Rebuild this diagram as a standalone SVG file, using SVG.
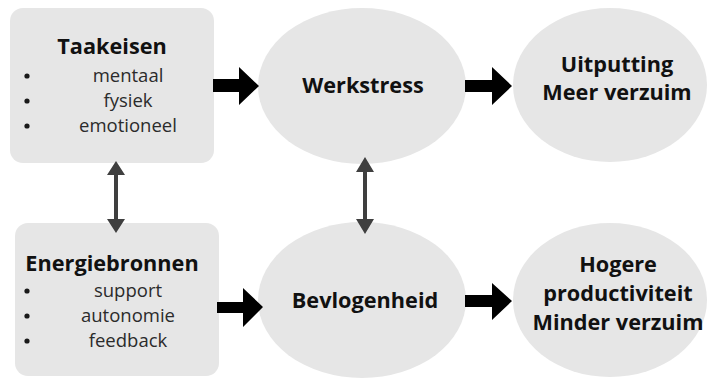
<svg xmlns="http://www.w3.org/2000/svg" width="710" height="378" viewBox="0 0 710 378">
<style>
.box{fill:#e6e6e6}
.title{font-family:"Open Sans","Liberation Sans",sans-serif;font-weight:bold;font-size:21.7px;fill:#111;text-anchor:middle}
.item{font-family:"Open Sans","Liberation Sans",sans-serif;font-size:18.5px;fill:#2b2b2b;text-anchor:middle}
.bullet{fill:#1a1a1a}
.blk{fill:#000}
.dbl{fill:#3f3f3f}
</style>
<rect width="710" height="378" fill="#fff"/>
<g id="taakeisen">
<rect class="box" x="10" y="8" width="204" height="155" rx="13"/>
<text class="title" x="112" y="54">Taakeisen</text>
<circle class="bullet" cx="27" cy="76" r="2.6"/>
<circle class="bullet" cx="27" cy="101" r="2.6"/>
<circle class="bullet" cx="27" cy="126" r="2.6"/>
<text class="item" x="128" y="82">mentaal</text>
<text class="item" x="128" y="107">fysiek</text>
<text class="item" x="128" y="132">emotioneel</text>
</g>
<g id="energiebronnen">
<rect class="box" x="15" y="223" width="204" height="153" rx="13"/>
<text class="title" x="112" y="271">Energiebronnen</text>
<circle class="bullet" cx="27" cy="291" r="2.6"/>
<circle class="bullet" cx="27" cy="316" r="2.6"/>
<circle class="bullet" cx="27" cy="341" r="2.6"/>
<text class="item" x="128" y="297">support</text>
<text class="item" x="128" y="322">autonomie</text>
<text class="item" x="128" y="347">feedback</text>
</g>
<g id="werkstress">
<ellipse class="box" cx="362" cy="86" rx="104" ry="78"/>
<text class="title" x="363" y="93">Werkstress</text>
</g>
<g id="uitputting">
<ellipse class="box" cx="610" cy="85" rx="97" ry="77"/>
<text class="title" x="617" y="72">Uitputting</text>
<text class="title" x="617" y="100">Meer verzuim</text>
</g>
<g id="bevlogenheid">
<ellipse class="box" cx="362" cy="300" rx="104" ry="78"/>
<text class="title" x="365" y="308">Bevlogenheid</text>
</g>
<g id="hogere">
<ellipse class="box" cx="610" cy="300" rx="97" ry="77"/>
<text class="title" x="618" y="272">Hogere</text>
<text class="title" x="618" y="301">productiviteit</text>
<text class="title" x="618" y="330">Minder verzuim</text>
</g>
<g id="connectors">
<polygon class="blk" points="213,79 239,79 239,67 259,86 239,105 239,92 213,92"/>
<polygon class="blk" points="465,80 492,80 492,67 512,86 492,105 492,92 465,92"/>
<polygon class="blk" points="217,302 243,302 243,288 263,307 243,327 243,313 217,313"/>
<polygon class="blk" points="465,295 492,295 492,283 512,301 492,320 492,307 465,307"/>
<polygon class="dbl" points="116,161 125,175 118,175 118,219 125,219 116,233 107,219 114,219 114,175 107,175"/>
<polygon class="dbl" points="365,157 374,172 367,172 367,219 374,219 365,234 356,219 363,219 363,172 356,172"/>
</g>
</svg>
